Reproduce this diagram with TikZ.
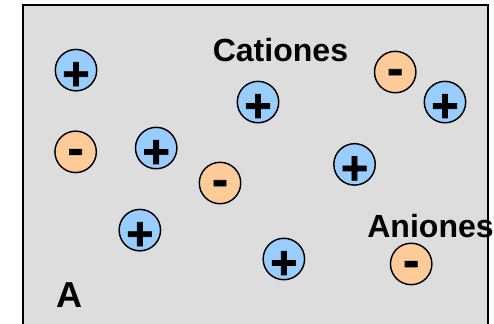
\documentclass[tikz,border=0pt]{standalone}
\usepackage{fontspec}
\setmainfont{Liberation Sans}
\newfontfamily\signfont[FakeBold=1.5]{Liberation Sans Bold}
\usepackage{tikz}
\usetikzlibrary{shapes,positioning}
\usepackage{xcolor}

\definecolor{boxgray}{HTML}{DDDDDD}
\definecolor{cationblue}{HTML}{99CCFF}
\definecolor{anionorange}{HTML}{FFCC99}

% lower a sign inside its circle, keeping the box size
\newcommand{\lowersign}[2]{\raisebox{-#1}[\height][\depth]{#2}}

\begin{document}
\begin{tikzpicture}[
    cation/.style={circle, draw=black, line width=1.1pt, fill=cationblue, minimum size=1.09cm, inner sep=0pt, font=\signfont\fontsize{35}{35}\selectfont},
    anion/.style={circle, draw=black, line width=1.1pt, fill=anionorange, minimum size=1.09cm, inner sep=0pt, font=\signfont\fontsize{36}{36}\selectfont},
    label/.style={anchor=base, inner sep=0pt, font=\bfseries\fontsize{24}{24}\selectfont}
]

\useasboundingbox (0,0) rectangle (13,8.526);

% solution box
\draw[line width=1.2pt, fill=boxgray] (0.605,-0.5) rectangle (12.842,8.395);

\node[cation] (cat1) at (2.00,6.68) {\lowersign{4.4pt}{+}};
\node[cation] (cat2) at (6.79,5.84) {\lowersign{4.4pt}{+}};
\node[cation] (cat3) at (11.71,5.84) {\lowersign{4.4pt}{+}};
\node[cation] (cat4) at (4.11,4.63) {\lowersign{4.4pt}{+}};
\node[cation] (cat5) at (9.33,4.20) {\lowersign{4.4pt}{+}};
\node[cation] (cat6) at (3.68,2.47) {\lowersign{4.4pt}{+}};
\node[cation] (cat7) at (7.47,1.71) {\lowersign{4.4pt}{+}};

\node[anion] (an1) at (10.40,6.63) {\lowersign{3.7pt}{-}};
\node[anion] (an2) at (1.99,4.53) {\lowersign{3.7pt}{-}};
\node[anion] (an3) at (5.79,3.71) {\lowersign{3.7pt}{-}};
\node[anion] (an4) at (10.82,1.58) {\lowersign{3.7pt}{-}};

\node[label] (cationes) at (7.38,6.895) {Cationes};
\node[label] (aniones) at (11.33,2.289) {Aniones};
\node[label, font=\bfseries\fontsize{27}{27}\selectfont] (boxA) at (1.83,0.447) {A};

\end{tikzpicture}
\end{document}
